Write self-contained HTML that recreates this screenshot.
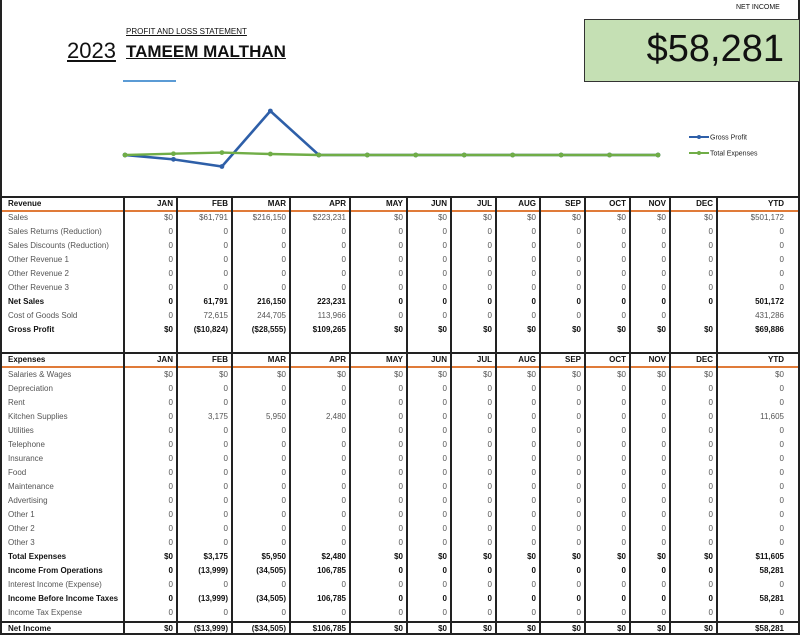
<!DOCTYPE html>
<html><head><meta charset="utf-8">
<style>
body{margin:0;width:800px;height:635px;overflow:hidden;background:#fff;font-family:"Liberation Sans",sans-serif;position:relative}
.a{position:absolute;white-space:nowrap}
.c{position:absolute;font-size:8px;line-height:14px;color:#555;white-space:nowrap;overflow:hidden}
.b{font-weight:bold;color:#111}
.r{text-align:right}
</style></head><body>
<div class="a" style="left:0;top:0;width:2px;height:635px;background:#222"></div>
<div class="a" style="left:798px;top:0;width:2px;height:635px;background:#222"></div>
<div class="a" style="left:736px;top:4px;font-size:7px;color:#111">NET INCOME</div>
<div class="a" style="left:584px;top:19px;width:214px;height:61px;background:#c5e0b4;border:1px solid #333"></div>
<div class="a" style="left:584px;top:26px;width:200px;text-align:right;font-size:38px;line-height:46px;color:#111">$58,281</div>
<div class="a" style="left:126px;top:27px;font-size:8px;text-decoration:underline;color:#111">PROFIT AND LOSS STATEMENT</div>
<div class="a" style="left:67px;top:38px;font-size:22px;text-decoration:underline;color:#111">2023</div>
<div class="a" style="left:126px;top:42px;font-size:17px;font-weight:bold;text-decoration:underline;color:#111">TAMEEM MALTHAN</div>
<div class="a" style="left:123px;top:80px;width:53px;height:2px;background:#5b9bd5"></div>

<svg id="chart" class="a" style="left:0;top:0" width="800" height="195"></svg>
<div id="tbl"></div>

<script>
const months=["JAN","FEB","MAR","APR","MAY","JUN","JUL","AUG","SEP","OCT","NOV","DEC"];
const grossProfit=[0,-10824,-28555,109265,0,0,0,0,0,0,0,0];
const totalExpenses=[0,3175,5950,2480,0,0,0,0,0,0,0,0];
const NS="http://www.w3.org/2000/svg";
const svg=document.getElementById('chart');
const x0=125,x1=658,y0=155,k=44/109265;
const xs=i=>x0+i*(x1-x0)/(months.length-1);
const ys=v=>y0-v*k;
function series(vals,col,name,w){
  const p=document.createElementNS(NS,'polyline');
  
  
  p.setAttribute('points',vals.map((v,i)=>xs(i)+','+ys(v)).join(' '));
  p.setAttribute('fill','none');p.setAttribute('stroke',col);p.setAttribute('stroke-width',w);
  svg.appendChild(p);
  vals.forEach((v,i)=>{
    const c=document.createElementNS(NS,'circle');
    
    
    c.setAttribute('cx',xs(i));c.setAttribute('cy',ys(v));c.setAttribute('r','2.4');c.setAttribute('fill',col);
    svg.appendChild(c);
  });
}
series(grossProfit,'#2e5fa8','gross-profit','2.6');
series(totalExpenses,'#70ad47','total-expenses','2.4');
[['Gross Profit','#2e5fa8',137,'legend-gross-profit'],['Total Expenses','#70ad47',153,'legend-total-expenses']].forEach(l=>{
  const g=document.createElementNS(NS,'g');
  
  
  g.innerHTML=`<line x1="689" x2="709" y1="${l[2]}" y2="${l[2]}" stroke="${l[1]}" stroke-width="2"/><circle cx="699" cy="${l[2]}" r="2" fill="${l[1]}"/><text x="710" y="${l[2]+2.5}" font-size="7" fill="#222" font-family="Liberation Sans">${l[0]}</text>`;
  svg.appendChild(g);
});

const colX=[2,123,176,231,289,349,406,450,495,539,584,629,669,716,798];
const z=["0","0","0","0","0","0","0","0","0","0","0","0","0"];
const d=["$0","$0","$0","$0","$0","$0","$0","$0","$0","$0","$0","$0"];
const rev=[
 ["Sales",["$0","$61,791","$216,150","$223,231",...d.slice(4)],"$501,172",0],
 ["Sales Returns (Reduction)",z.slice(0,12),"0",0],
 ["Sales Discounts (Reduction)",z.slice(0,12),"0",0],
 ["Other Revenue 1",z.slice(0,12),"0",0],
 ["Other Revenue 2",z.slice(0,12),"0",0],
 ["Other Revenue 3",z.slice(0,12),"0",0],
 ["Net Sales",["0","61,791","216,150","223,231","0","0","0","0","0","0","0","0"],"501,172",1],
 ["Cost of Goods Sold",["0","72,615","244,705","113,966","0","0","0","0","0","0","0",""],"431,286",0],
 ["Gross Profit",["$0","($10,824)","($28,555)","$109,265",...d.slice(4)],"$69,886",1]
];
const exp=[
 ["Salaries & Wages",d,"$0",0],
 ["Depreciation",z.slice(0,12),"0",0],
 ["Rent",z.slice(0,12),"0",0],
 ["Kitchen Supplies",["0","3,175","5,950","2,480","0","0","0","0","0","0","0","0"],"11,605",0],
 ["Utilities",z.slice(0,12),"0",0],
 ["Telephone",z.slice(0,12),"0",0],
 ["Insurance",z.slice(0,12),"0",0],
 ["Food",z.slice(0,12),"0",0],
 ["Maintenance",z.slice(0,12),"0",0],
 ["Advertising",z.slice(0,12),"0",0],
 ["Other 1",z.slice(0,12),"0",0],
 ["Other 2",z.slice(0,12),"0",0],
 ["Other 3",z.slice(0,12),"0",0],
 ["Total Expenses",["$0","$3,175","$5,950","$2,480",...d.slice(4)],"$11,605",1],
 ["Income From Operations",["0","(13,999)","(34,505)","106,785","0","0","0","0","0","0","0","0"],"58,281",1],
 ["Interest Income (Expense)",z.slice(0,12),"0",0],
 ["Income Before Income Taxes",["0","(13,999)","(34,505)","106,785","0","0","0","0","0","0","0","0"],"58,281",1],
 ["Income Tax Expense",z.slice(0,12),"0",0],
 ["Net Income",["$0","($13,999)","($34,505)","$106,785",...d.slice(4)],"$58,281",1]
];
const T=document.getElementById('tbl');
function box(x,y,w,h,bg,name){
  const e=document.createElement('div');
  e.className='a';
  
  
  e.style.cssText=`left:${x}px;top:${y}px;width:${w}px;height:${h}px;background:${bg}`;
  T.appendChild(e);
}
function cell(txt,x,w,y,cls,name){
  const e=document.createElement('div');
  e.className='c '+cls;
  
  
  e.style.left=x+'px';e.style.top=y+'px';e.style.width=w+'px';
  e.textContent=txt;
  T.appendChild(e);
}
function rowCells(label,vals,ytd,y,cls,key){
  cell(label,8,115,y,cls,key+'-label');
  vals.forEach((v,i)=>cell(v,colX[i+1],colX[i+2]-colX[i+1]-3,y,cls+' r',key+'-'+months[i].toLowerCase()));
  cell(ytd,colX[13],colX[14]-colX[13]-14,y,cls+' r',key+'-ytd');
}
function section(title,rows,top,startY,key){
  box(2,top,796,2,'#222',key+'-top-border');
  box(2,top+14,796,1.5,'#e07b39',key+'-header-underline');
  rowCells(title,months,'YTD',top+1,'b',key+'-header');
  rows.forEach((r,i)=>{
    const y=startY+i*14+(r[0]==='Net Income'?2:0);
    rowCells(r[0],r[1],r[2],y,r[3]?'b':'',r[0].toLowerCase().replace(/[^a-z0-9]+/g,'-').replace(/-$/,''));
  });
}
section('Revenue',rev,196,211,'revenue');
section('Expenses',exp,352,368,'expenses');
box(2,621,796,1.5,'#222','net-income-border');
box(2,633,796,2,'#222','table-bottom-border');
colX.slice(1,14).forEach((x,i)=>box(x,196,1.5,439,'#222','column-divider'));
</script>
</body></html>
